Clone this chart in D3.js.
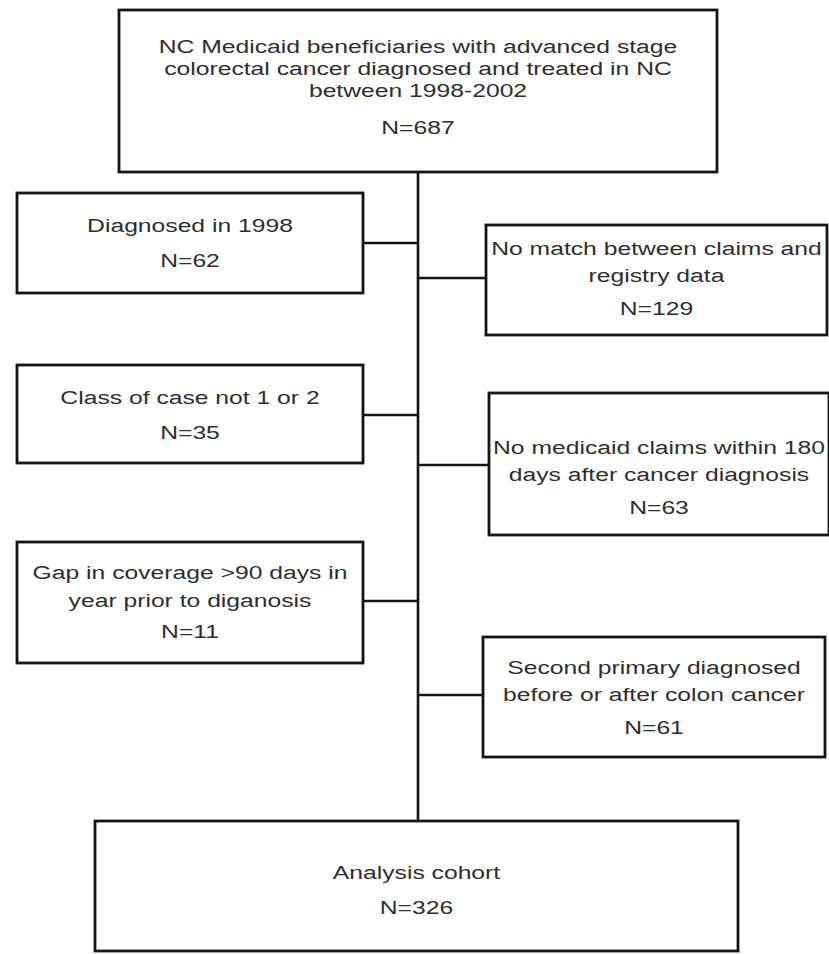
<!DOCTYPE html>
<html>
<head>
<meta charset="utf-8">
<script src="https://cdn.jsdelivr.net/npm/d3@7"></script>
<style>
  html, body { margin: 0; padding: 0; background: #fff; }
  svg { display: block; }
</style>
</head>
<body>
<svg id="chart" width="829" height="954"></svg>
<script>
// ---- data ----
const stepLabels = [
  ["NC Medicaid beneficiaries with advanced stage", "colorectal cancer diagnosed and treated in NC", "between 1998-2002"],
  ["Diagnosed in 1998"],
  ["No match between claims and", "registry data"],
  ["Class of case not 1 or 2"],
  ["No medicaid claims within 180", "days after cancer diagnosis"],
  ["Gap in coverage >90 days in", "year prior to diganosis"],
  ["Second primary diagnosed", "before or after colon cancer"],
  ["Analysis cohort"]
];
const stepCounts = [687, 62, 129, 35, 63, 11, 61, 326];
const stepRoles = ["start", "exclude", "exclude", "exclude", "exclude", "exclude", "exclude", "end"];

// ---- layout (geometry only) ----
const layout = [
  {x0:119, x1:717, y0:10,  y1:172, lines:[46, 68, 90], nY:127},
  {x0:17,  x1:363, y0:193, y1:293, lines:[225], nY:260, link:243},
  {x0:486, x1:827, y0:225, y1:335, lines:[248, 275], nY:308, link:278},
  {x0:17,  x1:363, y0:365, y1:463, lines:[397], nY:432, link:415},
  {x0:489, x1:829, y0:393, y1:535, lines:[447, 474], nY:507, link:465},
  {x0:17,  x1:363, y0:542, y1:663, lines:[572, 600], nY:631, link:601},
  {x0:483, x1:825, y0:637, y1:757, lines:[667, 694], nY:727, link:695},
  {x0:95,  x1:738, y0:821, y1:951, lines:[872], nY:907}
];
const spineX = 418;
const fontSize = 19, stretchX = 1.3;

const svg = d3.select("#chart");
const stroke = "#141414";

// spine
svg.append("line")
  .attr("x1", spineX).attr("x2", spineX)
  .attr("y1", layout[0].y1).attr("y2", layout[7].y0)
  .attr("stroke", stroke).attr("stroke-width", 2.6);

const nodes = stepLabels.map((lab, i) => ({lab, n: stepCounts[i], role: stepRoles[i], g: layout[i]}));

// connectors
svg.selectAll("line.link")
  .data(nodes.filter(d => d.role === "exclude"))
  .join("line")
  .attr("class", "link")
  .attr("x1", spineX)
  .attr("x2", d => d.g.x0 > spineX ? d.g.x0 : d.g.x1)
  .attr("y1", d => d.g.link).attr("y2", d => d.g.link)
  .attr("stroke", stroke).attr("stroke-width", 2.6);

// boxes
const box = svg.selectAll("g.box").data(nodes).join("g").attr("class", "box");
box.append("rect")
  .attr("x", d => d.g.x0).attr("y", d => d.g.y0)
  .attr("width", d => d.g.x1 - d.g.x0).attr("height", d => d.g.y1 - d.g.y0)
  .attr("fill", "#fff").attr("stroke", stroke).attr("stroke-width", 2.8);

function addText(sel, cx, cy, txt) {
  sel.append("text")
    .attr("transform", `translate(${cx},${cy}) scale(${stretchX},1)`)
    .attr("text-anchor", "middle")
    .attr("dy", "0.36em")
    .attr("font-family", "'Liberation Sans', Arial, sans-serif")
    .attr("font-size", fontSize)
    .attr("fill", "#2e2e2e")
    .text(txt);
}
box.each(function(d) {
  const g = d3.select(this);
  const cx = (d.g.x0 + d.g.x1) / 2;
  d.lab.forEach((t, k) => addText(g, cx, d.g.lines[k], t));
  addText(g, cx, d.g.nY, "N=" + d.n);
});
</script>
</body>
</html>
